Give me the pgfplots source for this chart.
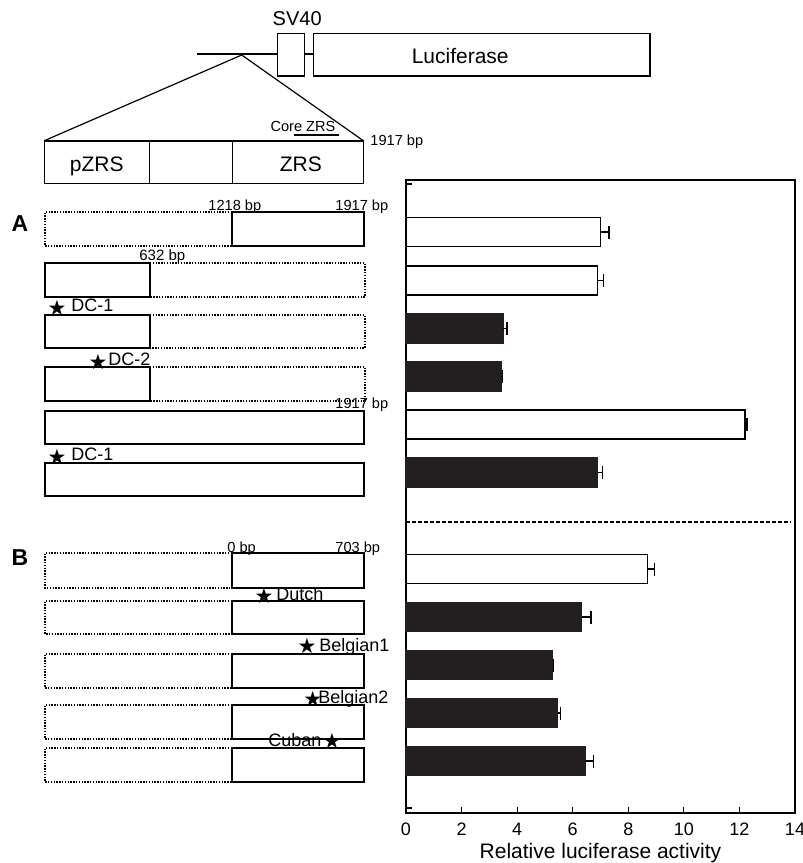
\documentclass[border=0pt]{standalone}
\usepackage{pgfplots}
\pgfplotsset{compat=1.18}
\usepackage{fontspec}
\setmainfont{Liberation Sans}
\newfontfamily\symfont{DejaVu Sans}
\newcommand{\fs}[1]{\fontsize{#1}{#1}\selectfont}
\newcommand{\st}{{\symfont\fs{10.5}★}}
\definecolor{barblack}{RGB}{35,31,32}
\begin{document}
\begin{tikzpicture}
\begin{axis}[at={(0pt,0pt)}, anchor=south west, scale only axis,
  width=401.5pt, height=431.5pt, xmin=0, xmax=803, ymin=0, ymax=863,
  y dir=reverse, hide axis, clip=false]
% header construct
\draw[line width=0.6pt] (axis cs:196.7,54) -- (axis cs:277.7,54);
\draw[line width=0.6pt] (axis cs:304.3,54) -- (axis cs:313.3,54);
\draw[line width=0.7pt] (axis cs:277.7,33.3) rectangle (axis cs:304.3,76);
\draw[line width=0.7pt] (axis cs:313.3,33.3) rectangle (axis cs:650,76);
\node[anchor=base, inner sep=0] at (axis cs:297.2,25) {\fs{10}SV40};
\node[anchor=base, inner sep=0] at (axis cs:460.2,63.3) {\fs{10.5}Luciferase};
\draw[line width=0.6pt] (axis cs:44.3,140.7) -- (axis cs:241.7,55) -- (axis cs:363.3,140.7);
\draw[line width=0.8pt] (axis cs:44.3,140.7) rectangle (axis cs:363.3,183.3);
\draw[line width=0.6pt] (axis cs:149.3,140.7) -- (axis cs:149.3,183.3);
\draw[line width=0.6pt] (axis cs:232.3,140.7) -- (axis cs:232.3,183.3);
\node[anchor=base, inner sep=0] at (axis cs:96.7,171.7) {\fs{10.5}pZRS};
\node[anchor=base, inner sep=0] at (axis cs:300.8,171.7) {\fs{10.5}ZRS};
\draw[line width=1pt] (axis cs:294,135) -- (axis cs:339.3,135);
\node[anchor=base, inner sep=0] at (axis cs:303,131.7) {\fs{7.3}Core ZRS};
\node[anchor=base west, inner sep=0] at (axis cs:370,145) {\fs{7.3}1917 bp};
% panel labels
\node[anchor=base, inner sep=0] at (axis cs:20,231.7) {\fs{11.5}\bfseries A};
\node[anchor=base, inner sep=0] at (axis cs:20,565) {\fs{11.5}\bfseries B};
% panel A constructs
\tikzset{solidbox/.style={line width=0.8pt}, dotbox/.style={line width=0.65pt, dash pattern=on 0.7pt off 0.7pt}}
% row 1
\draw[dotbox] (axis cs:232,212) -- (axis cs:45,212) -- (axis cs:45,246) -- (axis cs:232,246);
\draw[solidbox] (axis cs:232,212) rectangle (axis cs:364,246);
\node[anchor=base west, inner sep=0] at (axis cs:208,210) {\fs{7.3}1218 bp};
\node[anchor=base west, inner sep=0] at (axis cs:335,210) {\fs{7.3}1917 bp};
% row 2
\draw[solidbox] (axis cs:45,263) rectangle (axis cs:150,297);
\draw[dotbox] (axis cs:150,263) -- (axis cs:365,263) -- (axis cs:365,297) -- (axis cs:150,297);
\node[anchor=base west, inner sep=0] at (axis cs:139,260) {\fs{7.5}632 bp};
% row 3
\draw[solidbox] (axis cs:45,315) rectangle (axis cs:150,348);
\draw[dotbox] (axis cs:150,315) -- (axis cs:365,315) -- (axis cs:365,348) -- (axis cs:150,348);
\node[inner sep=0] at (axis cs:57,308) {\st};
\node[anchor=base west, inner sep=0] at (axis cs:71,311.5) {\fs{9}DC-1};
% row 4
\draw[solidbox] (axis cs:45,367) rectangle (axis cs:150,401);
\draw[dotbox] (axis cs:150,367) -- (axis cs:365,367) -- (axis cs:365,401) -- (axis cs:150,401);
\node[inner sep=0] at (axis cs:98,362) {\st};
\node[anchor=base west, inner sep=0] at (axis cs:108,365) {\fs{9}DC-2};
% row 5
\draw[solidbox] (axis cs:45,411) rectangle (axis cs:364,444);
\node[anchor=base west, inner sep=0] at (axis cs:335,408) {\fs{7.3}1917 bp};
% row 6
\draw[solidbox] (axis cs:45,463) rectangle (axis cs:364,496);
\node[inner sep=0] at (axis cs:57,457) {\st};
\node[anchor=base west, inner sep=0] at (axis cs:71,460) {\fs{9}DC-1};
% panel B constructs
\foreach \a/\b in {553/588, 601/634, 654/688, 705/739, 748/782}{
  \edef\tmp{\noexpand\draw[dotbox] (axis cs:232,\a) -- (axis cs:45,\a) -- (axis cs:45,\b) -- (axis cs:232,\b);
  \noexpand\draw[solidbox] (axis cs:232,\a) rectangle (axis cs:364,\b);}
  \tmp
}
\node[anchor=base west, inner sep=0] at (axis cs:227,552) {\fs{7.3}0 bp};
\node[anchor=base west, inner sep=0] at (axis cs:335,552) {\fs{7.3}703 bp};
\node[inner sep=0] at (axis cs:264,596) {\st};
\node[anchor=base west, inner sep=0] at (axis cs:276,600.7) {\fs{9}Dutch};
\node[inner sep=0] at (axis cs:307,646) {\st};
\node[anchor=base west, inner sep=0] at (axis cs:319,651.7) {\fs{9}Belgian1};
\node[inner sep=0] at (axis cs:312.7,699) {\st};
\node[anchor=base west, inner sep=0] at (axis cs:318,703) {\fs{9}Belgian2};
\node[anchor=base west, inner sep=0] at (axis cs:268,746.7) {\fs{9}Cuban};
\node[inner sep=0] at (axis cs:332,741) {\st};
\end{axis}

\begin{axis}[at={(203pt,25pt)}, anchor=south west, scale only axis,
  width=194.5pt, height=316.5pt,
  xmin=0, xmax=14, ymin=180, ymax=813, y dir=reverse,
  axis line style={line width=0.8pt},
  xtick={0,2,...,14}, xtick pos=bottom, tick align=inside,
  major tick length=3pt,
  ytick={184,232,280.5,328.5,376.5,424.5,472.5,569,617,665,713,761,808},
  yticklabels={}, ytick pos=left,
  tick style={line width=0.6pt, black},
  /pgf/number format/assume math mode=true,
  xticklabel style={font=\fs{9}, anchor=base, inner sep=0pt, yshift=-11pt},
  clip=false]
\addplot[xbar, bar shift=0pt, bar width=29, fill=white, draw=black, line width=0.6pt,
  error bars/.cd, x dir=plus, x explicit, error mark=|,
  error bar style={line width=0.6pt, black},
  error mark options={mark size=3.25pt, line width=0.7pt, black}]
coordinates {(7.0,232) +- (0.3,0) (6.9,280.5) +- (0.2,0) (12.2,424.5) +- (0.07,0) (8.7,569) +- (0.24,0)};
\addplot[xbar, bar shift=0pt, bar width=29, fill=barblack, draw=barblack, line width=0.6pt,
  error bars/.cd, x dir=plus, x explicit, error mark=|,
  error bar style={line width=0.6pt, black},
  error mark options={mark size=3.25pt, line width=0.7pt, black}]
coordinates {(3.5,328.5) +- (0.13,0) (3.43,376.5) +- (0.04,0) (6.9,472.5) +- (0.17,0) (6.33,617) +- (0.33,0) (5.28,665) +- (0.03,0) (5.46,713) +- (0.09,0) (6.46,761) +- (0.28,0)};
\addplot[black, line width=1.2pt, dash pattern=on 2pt off 1pt] coordinates {(0,522) (13.85,522)};
\node[anchor=base, inner sep=0] at (axis cs:7,813) [yshift=-22.5pt] {\fs{10.5}Relative luciferase activity};
\end{axis}
\pgfresetboundingbox
\path (0pt,0pt) rectangle (401.5pt,431.5pt);
\end{tikzpicture}
\end{document}
